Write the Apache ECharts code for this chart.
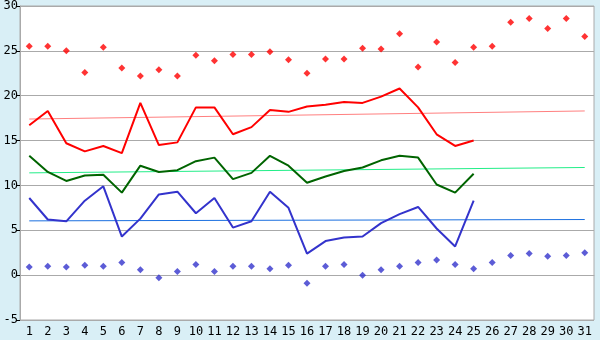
<!DOCTYPE html>
<html>
<head>
<meta charset="utf-8">
<script src="https://cdn.jsdelivr.net/npm/echarts@6/dist/echarts.min.js"></script>
<style>
  html, body { margin: 0; padding: 0; background: #d9eff6; }
  #chart { width: 600px; height: 340px; }
</style>
</head>
<body>
<div id="chart"></div>
<script>
const days = Array.from({length: 31}, (_, i) => String(i + 1));

// daily extremes (dots)
const maxPoints = [25.5, 25.5, 25.0, 22.6, 25.4, 23.1, 22.2, 22.9, 22.2, 24.5,
  23.9, 24.6, 24.6, 24.9, 24.0, 22.5, 24.1, 24.1, 25.3, 25.2,
  26.9, 23.2, 26.0, 23.7, 25.4, 25.5, 28.2, 28.6, 27.5, 28.6, 26.6];
const minPoints = [0.9, 1.0, 0.9, 1.1, 1.0, 1.4, 0.6, -0.3, 0.4, 1.2,
  0.4, 1.0, 1.0, 0.7, 1.1, -0.9, 1.0, 1.2, 0.0, 0.6,
  1.0, 1.4, 1.7, 1.2, 0.7, 1.4, 2.2, 2.4, 2.1, 2.2, 2.5];

// measured lines (days 1-25)
const maxLine = [16.7, 18.3, 14.7, 13.8, 14.4, 13.6, 19.2, 14.5, 14.8, 18.7,
  18.7, 15.7, 16.5, 18.4, 18.2, 18.8, 19.0, 19.3, 19.2, 19.9,
  20.8, 18.7, 15.7, 14.4, 15.0];
const meanLine = [13.3, 11.5, 10.5, 11.1, 11.2, 9.2, 12.2, 11.5, 11.7, 12.7,
  13.1, 10.7, 11.4, 13.3, 12.2, 10.3, 11.0, 11.6, 12.0, 12.8,
  13.3, 13.1, 10.1, 9.2, 11.3];
const minLine = [8.6, 6.2, 6.0, 8.3, 9.9, 4.3, 6.3, 9.0, 9.3, 6.9,
  8.6, 5.3, 6.0, 9.3, 7.5, 2.4, 3.8, 4.2, 4.3, 5.8,
  6.8, 7.6, 5.2, 3.2, 8.3];

// normal-value trend lines, start (day 1) and end (day 31)
const trendMax = [17.4, 18.3];
const trendMean = [11.4, 12.0];
const trendMin = [6.05, 6.2];

const yTicks = [-5, 0, 5, 10, 15, 20, 25, 30];

function ends(v) {
  return [[days[0], v[0]], [days[days.length - 1], v[1]]];
}

const chart = echarts.init(document.getElementById('chart'));
const font = 'DejaVu Sans Mono';

chart.setOption({
  backgroundColor: '#d9eff6',
  animation: false,
  grid: {
    left: 20, right: 6, top: 5, bottom: 20,
    show: true, backgroundColor: '#fff', borderColor: '#aaa', borderWidth: 1
  },
  xAxis: {
    type: 'category',
    data: days,
    boundaryGap: true,
    axisLine: { lineStyle: { color: '#aaa' } },
    axisTick: { alignWithLabel: true, length: 5, lineStyle: { color: '#000' } },
    axisLabel: { color: '#000', fontFamily: font, fontSize: 12, margin: 6, interval: 0 }
  },
  yAxis: {
    type: 'value',
    min: yTicks[0], max: yTicks[yTicks.length - 1], interval: 5,
    axisLine: { show: true, lineStyle: { color: '#aaa' } },
    axisTick: { show: true, length: 4, lineStyle: { color: '#000' } },
    axisLabel: { color: '#000', fontFamily: font, fontSize: 12, margin: 2 },
    splitLine: { lineStyle: { color: '#aaa', width: 1 } }
  },
  series: [
    { type: 'line', data: ends(trendMax), symbol: 'none', lineStyle: { color: '#ff8080', width: 1 }, z: 1 },
    { type: 'line', data: ends(trendMean), symbol: 'none', lineStyle: { color: '#22ee88', width: 1 }, z: 1 },
    { type: 'line', data: ends(trendMin), symbol: 'none', lineStyle: { color: '#1a6fe0', width: 1 }, z: 1 },
    { type: 'line', data: maxLine, symbol: 'none', lineStyle: { color: '#ff0000', width: 2 }, z: 3 },
    { type: 'line', data: meanLine, symbol: 'none', lineStyle: { color: '#006400', width: 2 }, z: 3 },
    { type: 'line', data: minLine, symbol: 'none', lineStyle: { color: '#3333cc', width: 2 }, z: 3 },
    { type: 'scatter', data: maxPoints, symbol: 'diamond', symbolSize: 7, itemStyle: { color: '#ff0000' }, z: 4 },
    { type: 'scatter', data: minPoints, symbol: 'diamond', symbolSize: 7, itemStyle: { color: '#3333cc' }, z: 4 }
  ]
});
</script>
</body>
</html>
